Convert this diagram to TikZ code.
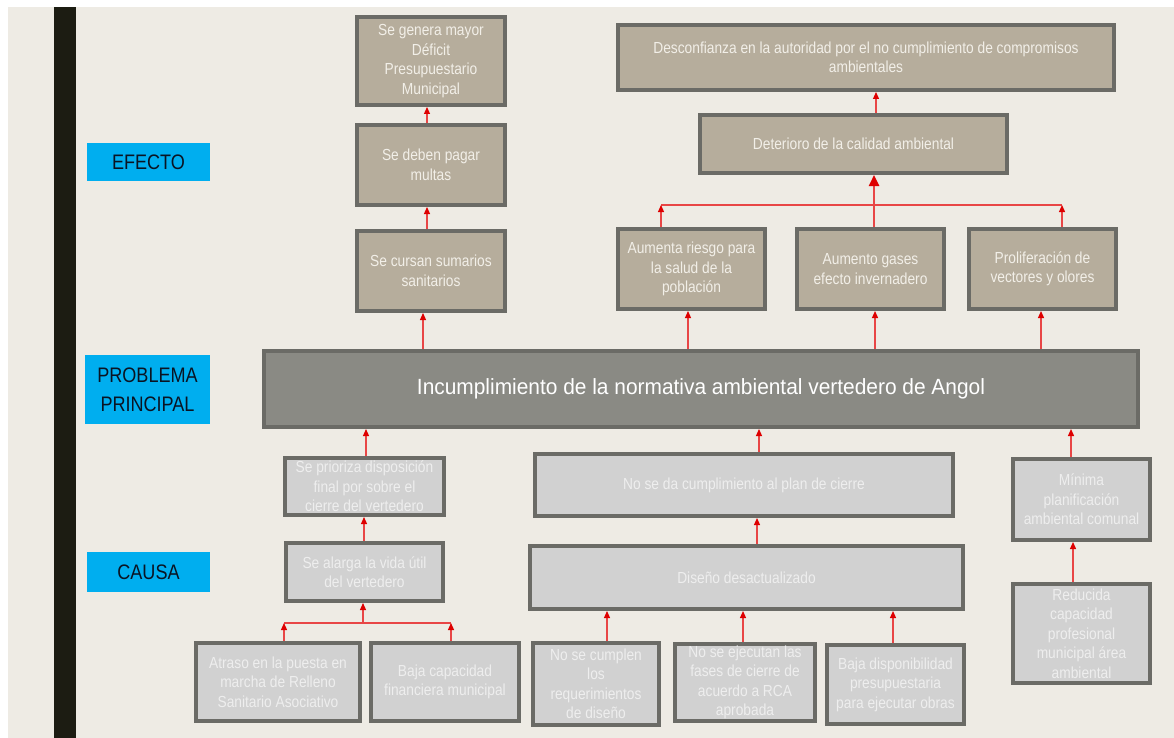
\documentclass[tikz,border=0pt]{standalone}
\usepackage{fontspec}
\setmainfont{Liberation Sans}
\newfontfamily\cfont{Liberation Sans}[FakeStretch=0.86]
\newfontfamily\pfont{Liberation Sans}[FakeStretch=0.95]
\newfontfamily\lfont{Liberation Sans}[FakeStretch=0.86]
\usetikzlibrary{arrows.meta}
\definecolor{bgc}{RGB}{238,235,228}
\definecolor{barc}{RGB}{28,28,18}
\definecolor{bord}{RGB}{107,107,102}
\definecolor{tanc}{RGB}{182,173,156}
\definecolor{efftext}{RGB}{242,239,232}
\definecolor{caufill}{RGB}{209,209,209}
\definecolor{cautext}{RGB}{238,238,238}
\definecolor{probfill}{RGB}{138,138,132}
\definecolor{labblue}{RGB}{0,174,239}
\definecolor{labtext}{RGB}{10,20,35}
\definecolor{lred}{RGB}{232,70,70}
\definecolor{hred}{RGB}{222,0,0}
\tikzset{
 base/.style={rectangle, line width=4pt, draw=bord, align=center, inner sep=1pt, font=\cfont\fontsize{16}{19.5}\selectfont},
 effbox/.style={base, fill=tanc, text=efftext},
 caubox/.style={base, fill=caufill, text=cautext},
 probbox/.style={base, fill=probfill, text=white, font=\pfont\fontsize{22}{26}\selectfont},
 lab/.style={rectangle, fill=labblue, text=labtext, inner sep=0pt, outer sep=0pt, align=center, font=\lfont\fontsize{21}{29}\selectfont},
 arr/.style={draw=lred, line width=1.2pt, -{Triangle[length=7pt,width=6pt,color=hred]}},
 thickarr/.style={draw=lred, line width=2.4pt, -{Triangle[length=11pt,width=10pt,color=hred]}},
 link/.style={draw=lred, line width=1.2pt},
}
\begin{document}
\begin{tikzpicture}[x=1pt,y=-1pt]
\useasboundingbox (0,0) rectangle (1174,738);
\fill[white] (0,0) rectangle (1174,738);
\fill[bgc] (8,7) rectangle (1174,738);
\fill[barc] (54,7) rectangle (76,738);

% labels
\node[lab, minimum width=123pt, minimum height=38pt] (lef) at (148.5,162) {EFECTO};
\node[lab, minimum width=125pt, minimum height=69pt] (lpp) at (147.5,389.5) {PROBLEMA\\PRINCIPAL};
\node[lab, minimum width=123pt, minimum height=40pt] (lca) at (148.5,572) {CAUSA};

% effects
\node[effbox, minimum width=148pt, minimum height=88pt] (e1) at (431,61) {Se genera mayor\\Déficit\\Presupuestario\\Municipal};
\node[effbox, minimum width=148pt, minimum height=80pt] (e2) at (431,165) {Se deben pagar\\multas};
\node[effbox, minimum width=148pt, minimum height=80pt] (e3) at (431,271) {Se cursan sumarios\\sanitarios};
\node[effbox, minimum width=496pt, minimum height=65pt] (e4) at (866,57.5) {Desconfianza en la autoridad por el no cumplimiento de compromisos\\ambientales};
\node[effbox, minimum width=307pt, minimum height=58pt] (e5) at (853.5,144) {Deterioro de la calidad ambiental};
\node[effbox, minimum width=147pt, minimum height=80pt] (e6) at (691.5,269) {Aumenta riesgo para\\la salud de la\\población};
\node[effbox, minimum width=147pt, minimum height=80pt] (e7) at (870.5,269) {Aumento gases\\efecto invernadero};
\node[effbox, minimum width=147pt, minimum height=80pt] (e8) at (1042.5,269) {Proliferación de\\vectores y olores};

% problem
\node[probbox, minimum width=874pt, minimum height=76pt] (p) at (701,389) {Incumplimiento de la normativa ambiental vertedero de Angol};

% causes
\node[caubox, minimum width=159pt, minimum height=57pt] (c1) at (364.5,486.5) {Se prioriza disposición\\final por sobre el\\cierre del vertedero};
\node[caubox, minimum width=418pt, minimum height=62pt] (c2) at (744,485) {No se da cumplimiento al plan de cierre};
\node[caubox, minimum width=137pt, minimum height=81pt] (c3) at (1081.5,499.5) {Mínima\\planificación\\ambiental comunal};
\node[caubox, minimum width=157pt, minimum height=58pt] (c4) at (364.5,572) {Se alarga la vida útil\\del vertedero};
\node[caubox, minimum width=433pt, minimum height=63pt] (c5) at (746.5,577.5) {Diseño desactualizado};
\node[caubox, minimum width=137pt, minimum height=99pt] (c6) at (1081.5,633.5) {Reducida\\capacidad\\profesional\\municipal área\\ambiental};
\node[caubox, minimum width=164pt, minimum height=78pt] (c7) at (278,682) {Atraso en la puesta en\\marcha de Relleno\\Sanitario Asociativo};
\node[caubox, minimum width=148pt, minimum height=78pt] (c8) at (445,682) {Baja capacidad\\financiera municipal};
\node[caubox, minimum width=126pt, minimum height=82pt] (c9) at (596,684) {No se cumplen\\los\\requerimientos\\de diseño};
\node[caubox, minimum width=140pt, minimum height=77pt] (c10) at (745,682.5) {No se ejecutan las\\fases de cierre de\\acuerdo a RCA\\aprobada};
\node[caubox, minimum width=137pt, minimum height=79pt] (c11) at (895.5,684.5) {Baja disponibilidad\\presupuestaria\\para ejecutar obras};

% junction coordinates
\coordinate (j1) at (661,205);
\coordinate (j2) at (1062,205);
\coordinate (j3) at (284,623);
\coordinate (j4) at (451,623);
\coordinate (j5) at (363,623);

% effect arrows
\draw[arr] ([xshift=-4pt]e3.north) -- ([xshift=-4pt]e2.south);
\draw[arr] ([xshift=-4pt]e2.north) -- ([xshift=-4pt]e1.south);
\draw[arr] ([xshift=-278pt]p.north) -- ([xshift=-8pt]e3.south);
\draw[arr] ([xshift=-13pt]p.north) -- ([xshift=-3.5pt]e6.south);
\draw[arr] ([xshift=174pt]p.north) -- ([xshift=4.5pt]e7.south);
\draw[arr] ([xshift=340pt]p.north) -- ([xshift=-1.5pt]e8.south);
\draw[arr] ([xshift=22.5pt]e5.north) -- ([xshift=10pt]e4.south);
\draw[link] (j1) -- (j2);
\draw[arr] ([xshift=-30.5pt]e6.north) -- (j1);
\draw[arr] ([xshift=19.5pt]e8.north) -- (j2);
\draw[thickarr] ([xshift=3.5pt]e7.north) -- ([xshift=20.5pt]e5.south);

% cause arrows
\draw[arr] ([xshift=1.5pt]c1.north) -- ([xshift=-335pt]p.south);
\draw[arr] ([xshift=15pt]c2.north) -- ([xshift=58pt]p.south);
\draw[arr] ([xshift=-10.5pt]c3.north) -- ([xshift=370pt]p.south);
\draw[arr] ([xshift=-0.5pt]c4.north) -- ([xshift=-0.5pt]c1.south);
\draw[arr] ([xshift=10.5pt]c5.north) -- ([xshift=13pt]c2.south);
\draw[arr] ([xshift=-8.5pt]c6.north) -- ([xshift=-8.5pt]c3.south);
\draw[link] (j3) -- (j4);
\draw[arr] ([xshift=6pt]c7.north) -- (j3);
\draw[arr] ([xshift=6pt]c8.north) -- (j4);
\draw[arr] (j5) -- ([xshift=-1.5pt]c4.south);
\draw[arr] ([xshift=11pt]c9.north) -- ([xshift=-139.5pt]c5.south);
\draw[arr] ([xshift=-2pt]c10.north) -- ([xshift=-3.5pt]c5.south);
\draw[arr] ([xshift=-2.5pt]c11.north) -- ([xshift=146.5pt]c5.south);
\end{tikzpicture}
\end{document}
